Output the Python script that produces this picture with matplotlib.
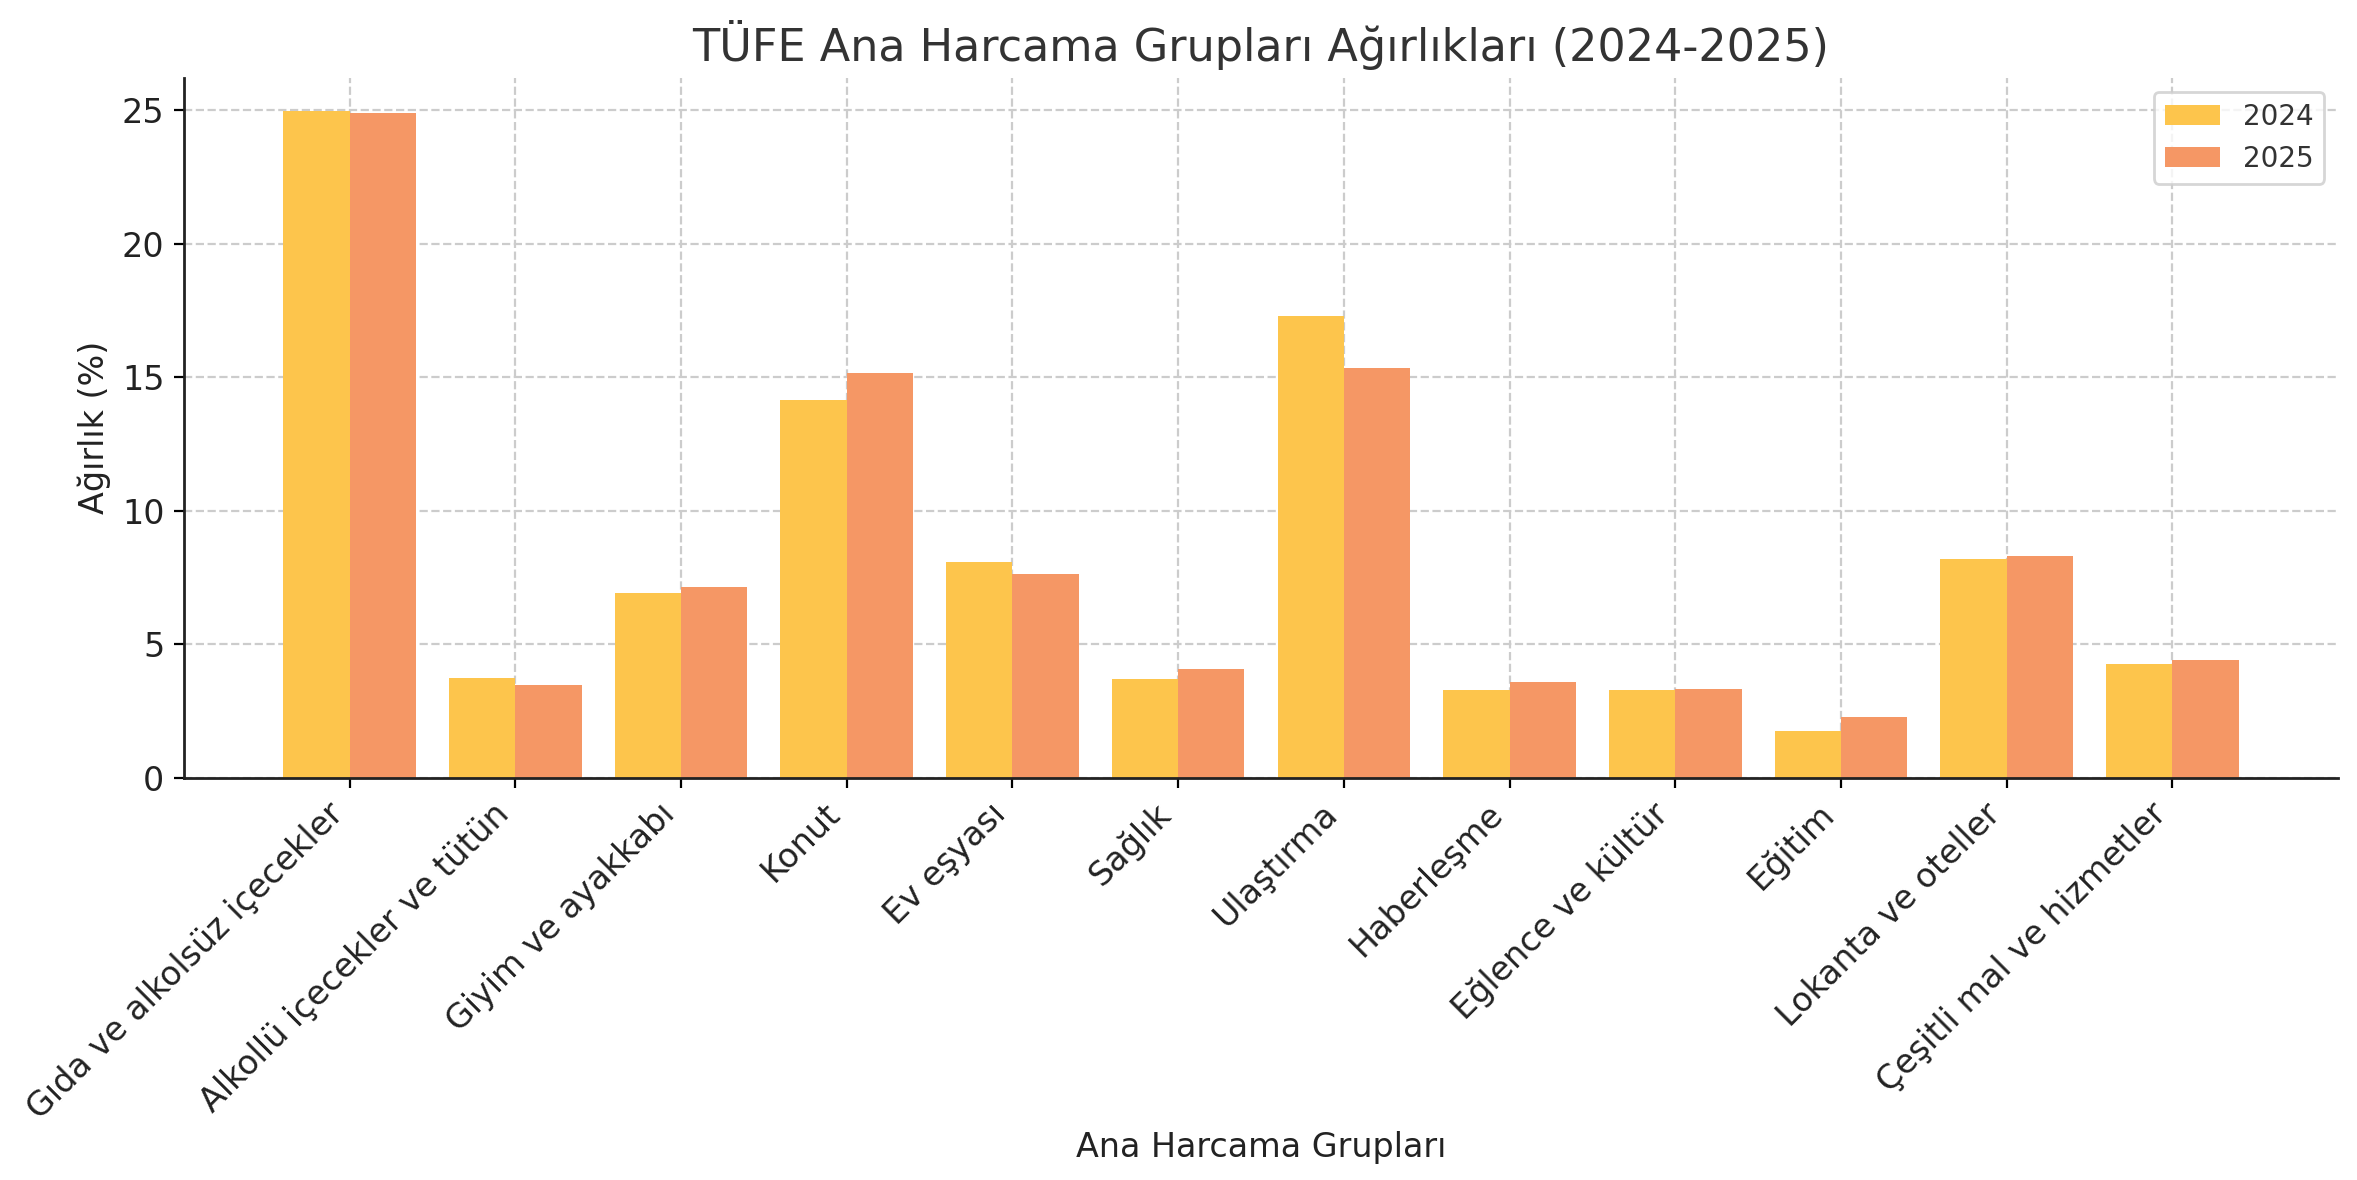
import matplotlib
matplotlib.use("Agg")
import matplotlib.pyplot as plt
import numpy as np

groups = [
    "Gıda ve alkolsüz içecekler",
    "Alkollü içecekler ve tütün",
    "Giyim ve ayakkabı",
    "Konut",
    "Ev eşyası",
    "Sağlık",
    "Ulaştırma",
    "Haberleşme",
    "Eğlence ve kültür",
    "Eğitim",
    "Lokanta ve oteller",
    "Çeşitli mal ve hizmetler",
]
w2024 = [24.97, 3.73, 6.92, 14.15, 8.08, 3.70, 17.31, 3.29, 3.29, 1.75, 8.18, 4.26]
w2025 = [24.91, 3.48, 7.15, 15.17, 7.64, 4.08, 15.33, 3.59, 3.33, 2.28, 8.30, 4.41]

C2024 = "#FDC54C"
C2025 = "#F59765"
TXT = "#333333"

fig = plt.figure(figsize=(11.785, 5.9), dpi=200)
ax = fig.add_axes([0.078, 0.341, 0.914, 0.593])

x = np.arange(len(groups))
bw = 0.4
ax.bar(x - bw / 2, w2024, bw, color=C2024, label="2024", zorder=2)
ax.bar(x + bw / 2, w2025, bw, color=C2025, label="2025", zorder=2)

ax.set_xlim(-1, 12)
ax.set_xticks(x)
ax.set_xticklabels(groups, rotation=45, ha="right", fontsize=12, color="#222222")
ax.tick_params(axis="y", labelsize=12, labelcolor="#222222")
ax.grid(True, linestyle="--", color="#cccccc", linewidth=0.8, zorder=0)
ax.set_axisbelow(True)
for s in ("top", "right"):
    ax.spines[s].set_visible(False)
for s in ("left", "bottom"):
    ax.spines[s].set_color("#222222")
    ax.spines[s].set_linewidth(1.0)

ax.set_title("TÜFE Ana Harcama Grupları Ağırlıkları (2024-2025)", fontsize=16, color=TXT)
ax.set_xlabel("Ana Harcama Grupları", fontsize=12, color="#222222", labelpad=2)
ax.set_ylabel("Ağırlık (%)", fontsize=12, color="#222222")
leg = ax.legend(loc="upper right", fontsize=10)
for t in leg.get_texts():
    t.set_color(TXT)

fig.savefig("out.png", dpi=200)
